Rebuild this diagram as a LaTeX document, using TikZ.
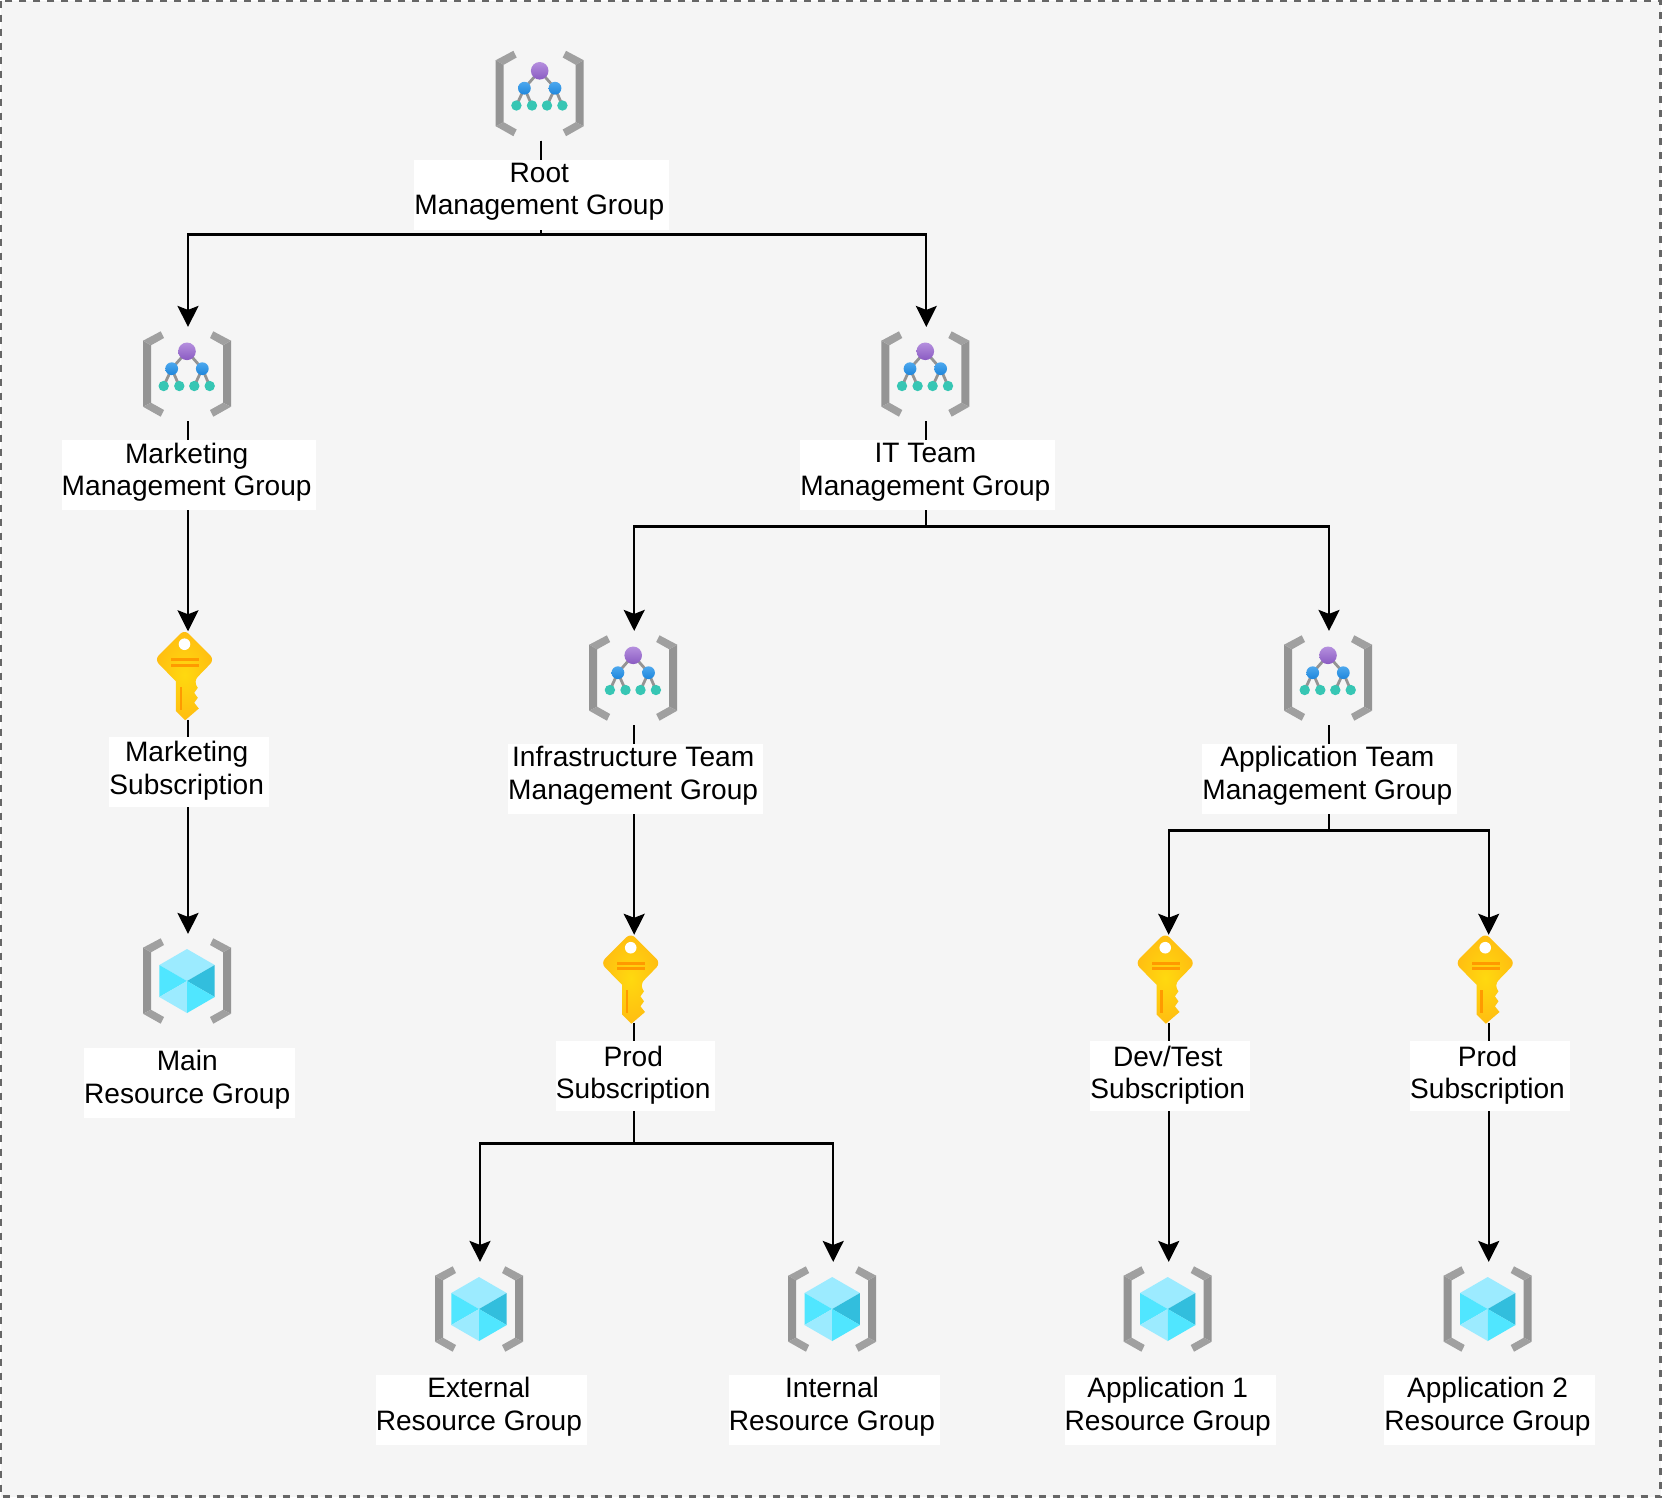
\documentclass[tikz,border=0pt]{standalone}
\usepackage{fontspec}
\setmainfont{Liberation Sans}
\usetikzlibrary{arrows.meta}

\definecolor{pagefill}{HTML}{F5F5F5}
\definecolor{framegray}{HTML}{666666}
\definecolor{bracketdark}{HTML}{949494}
\definecolor{bracketlight}{HTML}{A0A0A0}
\definecolor{ballpurpletop}{HTML}{B58FDE}
\definecolor{ballpurplebot}{HTML}{8A5BC2}
\definecolor{ballbluetop}{HTML}{4DA8EE}
\definecolor{ballbluebot}{HTML}{1E86DC}
\definecolor{ballteal}{HTML}{37C6B4}
\definecolor{cubelight}{HTML}{9CEBFF}
\definecolor{cubemid}{HTML}{50E6FF}
\definecolor{cubedark}{HTML}{32BEDD}
\definecolor{keycore}{HTML}{FFD90F}
\definecolor{keyedge}{HTML}{FFBD11}
\definecolor{keystripe}{HTML}{FF9A00}

\newcommand{\twolines}[3][6.1pt]{#2\hspace*{2.4pt}\\#3\hspace*{2.4pt}\rule[-#1]{0pt}{0pt}}

\tikzset{
    brackets/.pic={
        % left bracket
        \fill[bracketdark] (-44,-33.3) -- (-36,-28.7) -- (-36,28.7) -- (-44,32.7) -- cycle;
        \fill[bracketlight] (-44,-33.3) -- (-26.3,-42.7) -- (-23,-36) -- (-36,-28.7) -- cycle;
        \fill[bracketlight] (-44,32.7) -- (-26.3,42.7) -- (-23,36) -- (-36,28.7) -- cycle;
        % right bracket
        \fill[bracketdark] (44,-33.3) -- (36,-28.7) -- (36,28.7) -- (44,32.7) -- cycle;
        \fill[bracketlight] (44,-33.3) -- (26.3,-42.7) -- (23,-36) -- (36,-28.7) -- cycle;
        \fill[bracketlight] (44,32.7) -- (26.3,42.7) -- (23,36) -- (36,28.7) -- cycle;
    },
    mgicon/.pic={
        \begin{scope}[shift={(-1,0)}]
        \pic {brackets};
        \draw[bracketdark, line width=1.4pt] (-15.3,-5.3) -- (0,-22.7) -- (15.3,-5.3);
        \draw[bracketdark, line width=1.4pt] (-23.3,12) -- (-15.3,-5.3) -- (-7.7,12);
        \draw[bracketdark, line width=1.4pt] (7.3,12) -- (15.3,-5.3) -- (22.7,12);
        \shade[top color=ballpurpletop, bottom color=ballpurplebot] (0,-22.7) circle[radius=8.8];
        \shade[top color=ballbluetop, bottom color=ballbluebot] (-15.3,-5.3) circle[radius=6.4];
        \shade[top color=ballbluetop, bottom color=ballbluebot] (15.3,-5.3) circle[radius=6.4];
        \fill[ballteal] (-23.3,12) circle[radius=5.2];
        \fill[ballteal] (-7.7,12) circle[radius=5.2];
        \fill[ballteal] (7.3,12) circle[radius=5.2];
        \fill[ballteal] (22.7,12) circle[radius=5.2];
        \end{scope}
    },
    rgicon/.pic={
        \begin{scope}[shift={(-1,0)}]
        \pic {brackets};
        \fill[cubelight] (0,-32) -- (27.7,-16) -- (0,0) -- (-27.7,-16) -- cycle;
        \fill[cubemid] (-27.7,-16) -- (0,0) -- (-27.7,16) -- cycle;
        \fill[cubedark] (27.7,-16) -- (27.7,16) -- (0,0) -- cycle;
        \fill[cubelight] (-27.7,16) -- (0,0) -- (0,32) -- cycle;
        \fill[cubemid] (27.7,16) -- (0,32) -- (0,0) -- cycle;
        \end{scope}
    },
    keyicon/.pic={
        \begin{scope}[shift={(-3.5,-16)}]
        \shade[inner color=keycore, outer color=keyedge, rounded corners=3pt]
            (-8.7,21.7) -- (-30,0) -- (0,-30) -- (30,0) -- (9,21.7) [sharp corners]
            -- (13.3,28.3) -- (9.7,33.3) -- (13.3,38.3) -- (9.7,43.3) -- (14.3,49)
            -- (0.7,60.7) -- (-8.7,51.3) -- cycle;
        \fill[white] (0,-15.3) circle[radius=5.8];
        \fill[keystripe] (-13.7,-1.5) rectangle (14.7,1.5);
        \fill[keystripe] (-13.7,4.2) rectangle (14.7,7.2);
        \fill[keystripe] (-5,27.3) rectangle (-2.7,50);
        \end{scope}
    }
}

\begin{document}
\begin{tikzpicture}[x=0.5pt, y=-0.5pt,
        framebox/.style={draw=framegray, fill=pagefill, dashed, dash pattern=on 3.5pt off 3.5pt, line width=1.25pt},
        mgbox/.style={minimum width=44pt, minimum height=42.5pt, inner sep=0pt, outer sep=2.3pt},
        rgbox/.style={mgbox},
        keybox/.style={minimum width=28pt, minimum height=44.25pt, inner sep=0pt, outer sep=0pt},
        conn/.style={-{Stealth[length=10.5pt, width=10.5pt, inset=2pt]}, line width=1.1pt},
        lbl/.style={fill=white, align=center, inner sep=0pt, minimum height=35pt,
            font=\fontsize{14.05pt}{16.3pt}\selectfont}]

    \useasboundingbox (0,0) rectangle (1663,1500);
    \draw[framebox] (0.5,0.5) rectangle (1660.5,1496.5);

    % Nodes (Management groups)
    \node[mgbox] (root) at (540.7,93.5) {};  \pic at (root.center) {mgicon};
    \node[mgbox] (mkt) at (188,374) {};      \pic at (mkt.center) {mgicon};
    \node[mgbox] (itteam) at (926.3,374) {}; \pic at (itteam.center) {mgicon};
    \node[mgbox] (infra) at (634.2,678) {};  \pic at (infra.center) {mgicon};
    \node[mgbox] (appteam) at (1329,678) {}; \pic at (appteam.center) {mgicon};

    % Nodes (Subscriptions)
    \node[keybox] (mktsub) at (188,675.5) {};    \pic at (mktsub.center) {keyicon};
    \node[keybox] (prodinfra) at (634.2,979) {}; \pic at (prodinfra.center) {keyicon};
    \node[keybox] (devtest) at (1168.7,979) {};  \pic at (devtest.center) {keyicon};
    \node[keybox] (prodapp) at (1488.7,979) {};  \pic at (prodapp.center) {keyicon};

    % Nodes (Resource groups)
    \node[rgbox] (mainrg) at (188,981) {};     \pic at (mainrg.center) {rgicon};
    \node[rgbox] (extrg) at (480,1309) {};     \pic at (extrg.center) {rgicon};
    \node[rgbox] (intrg) at (833.2,1309) {};   \pic at (intrg.center) {rgicon};
    \node[rgbox] (app1rg) at (1168.7,1309) {}; \pic at (app1rg.center) {rgicon};
    \node[rgbox] (app2rg) at (1488.7,1309) {}; \pic at (app2rg.center) {rgicon};

    % Bends
    \coordinate (rootbus) at (540.7,234.5);
    \coordinate (itbus) at (926.3,526.5);
    \coordinate (infrabus) at (634.2,1143.5);
    \coordinate (appbus) at (1329,830.5);

    % Connectors
    \draw[conn] (root.south) -- (rootbus) -| (mkt.north);
    \draw[conn] (root.south) -- (rootbus) -| (itteam.north);
    \draw[conn] (mkt.south) -- (mktsub.north);
    \draw[conn] (mktsub.south) -- (mainrg.north);
    \draw[conn] (itteam.south) -- (itbus) -| (infra.north);
    \draw[conn] (itteam.south) -- (itbus) -| (appteam.north);
    \draw[conn] (infra.south) -- (prodinfra.north);
    \draw[conn] (prodinfra.south) -- (infrabus) -| (extrg.north);
    \draw[conn] (prodinfra.south) -- (infrabus) -| (intrg.north);
    \draw[conn] (appteam.south) -- (appbus) -| (devtest.north);
    \draw[conn] (appteam.south) -- (appbus) -| (prodapp.north);
    \draw[conn] (devtest.south) -- (app1rg.north);
    \draw[conn] (prodapp.south) -- (app2rg.north);

    % Labels
    \node[lbl] (rootlbl) at (541.7,195) {\twolines{Root}{Management Group}};
    \node[lbl] (mktlbl) at (189.1,475.3) {\twolines{Marketing}{Management Group}};
    \node[lbl] (itlbl) at (927.8,475.3) {\twolines{IT Team}{Management Group}};
    \node[lbl] (infralbl) at (635.6,779) {\twolines{Infrastructure Team}{Management Group}};
    \node[lbl] (applbl) at (1329.7,779) {\twolines{Application Team}{Management Group}};
    \node[lbl] (mktsublbl) at (189.1,771.8) {\twolines[3.9pt]{Marketing}{Subscription}};
    \node[lbl] (prodinfralbl) at (635.6,1076) {\twolines[3.9pt]{Prod}{Subscription}};
    \node[lbl] (devtestlbl) at (1170.1,1076) {\twolines[3.9pt]{Dev/Test}{Subscription}};
    \node[lbl] (prodapplbl) at (1489.9,1076) {\twolines[3.9pt]{Prod}{Subscription}};
    \node[lbl] (mainlbl) at (189.6,1082.7) {\twolines{Main}{Resource Group}};
    \node[lbl] (extlbl) at (481.3,1410) {\twolines{External}{Resource Group}};
    \node[lbl] (intlbl) at (834.4,1410) {\twolines{Internal}{Resource Group}};
    \node[lbl] (app1lbl) at (1170.1,1410) {\twolines{Application 1}{Resource Group}};
    \node[lbl] (app2lbl) at (1489.9,1410) {\twolines{Application 2}{Resource Group}};
\end{tikzpicture}
\end{document}
